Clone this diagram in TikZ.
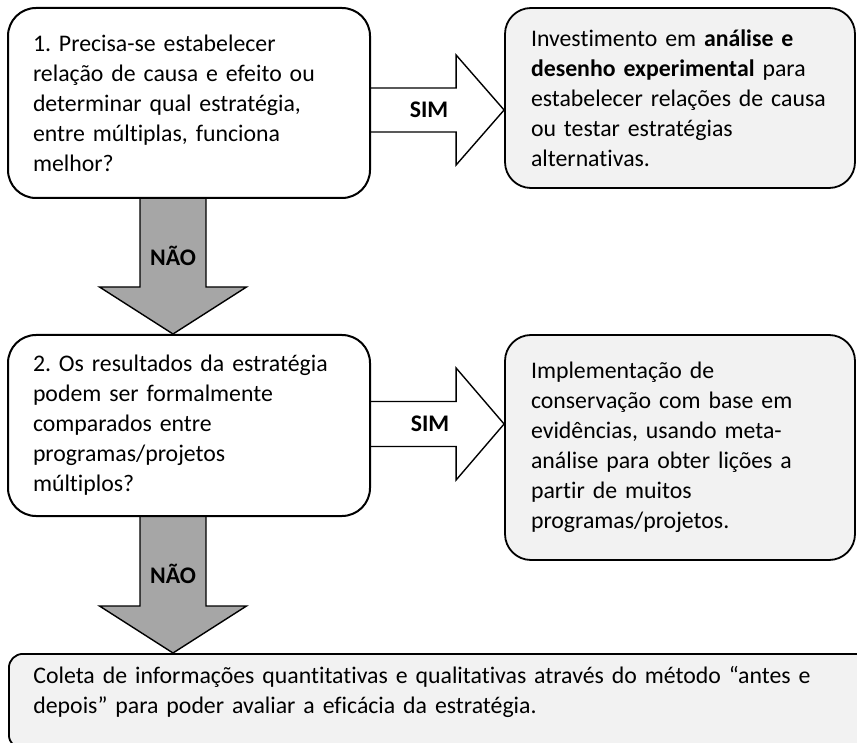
\documentclass[tikz,border=0pt]{standalone}
\usepackage{fontspec}
\setmainfont[Ligatures=NoCommon]{Carlito}
\usetikzlibrary{calc,backgrounds}
\definecolor{ansfill}{HTML}{F2F2F2}
\definecolor{nogrey}{HTML}{A6A6A6}
\frenchspacing
\tikzset{
  font=\fontsize{11.9}{15}\selectfont,
  question/.style={draw=black,line width=1pt,rounded corners=14pt,fill=white,
                   inner ysep=0pt,align=left},
  answer/.style={draw=black,line width=0.9pt,rounded corners=13pt,fill=ansfill,
                 inner ysep=0pt,align=left},
  yesarrow/.style={draw=black,line width=0.7pt,fill=white},
  noarrow/.style={draw=black,line width=0.7pt,fill=nogrey},
  armlbl/.style={font=\fontsize{11.9}{15}\selectfont\bfseries,inner sep=1pt},
}

\begin{document}
\begin{tikzpicture}[x=0.5pt,y=-0.5pt]
  \useasboundingbox (0,0) rectangle (857,743);
  \clip (0,0) rectangle (857,743);

  % questions (left) and answers (right)
  \node[question,inner xsep=12.5pt,text width=156pt,minimum height=95pt] (q1) at (189,103)
    {1. Precisa-se estabelecer\\relação de causa e efeito ou\\determinar qual estratégia,\\entre múltiplas, funciona\\melhor?};
  \node[answer,inner xsep=13pt,text width=149pt,minimum height=90pt] (a1) at (680,98)
    {Investimento em \textbf{análise e}\\\textbf{desenho experimental} para\\estabelecer relações de causa\\ou testar estratégias\\alternativas.};
  \node[question,inner xsep=12.5pt,text width=156pt,minimum height=90.5pt] (q2) at (189,425.5)
    {2. Os resultados da estratégia\\podem ser formalmente\\comparados entre\\programas/projetos\\múltiplos?};
  \node[answer,inner xsep=13pt,text width=149pt,minimum height=112.5pt] (a2) at (680,447.5)
    {Implementação de\\conservação com base em\\evidências, usando meta-\\análise para obter lições a\\partir de muitos\\programas/projetos.};

  % last box runs past the page edge
  \node[answer,anchor=north west,rounded corners=7pt,
        minimum width=436pt,minimum height=47.5pt] (method) at (8,653) {};
  \node[anchor=base west,inner sep=0pt,text width=411pt,align=left] (methodtxt)
    at ($(method.north west)+(25,30)$)
    {Coleta de informações quantitativas e qualitativas através do método “antes e\\depois” para poder avaliar a eficácia da estratégia.};

  \begin{scope}[on background layer]
    % SIM arrows
    \coordinate (y1a) at (q1.east |- 0,110);
    \coordinate (y1b) at (a1.west |- 0,110);
    \draw[yesarrow] ($(y1a)+(0,-22)$) -- ($(y1b)+(-48,-22)$) -- ($(y1b)+(-48,-55)$)
      -- (y1b) -- ($(y1b)+(-48,55)$) -- ($(y1b)+(-48,22)$) -- ($(y1a)+(0,22)$);
    \coordinate (y2a) at (q2.east |- 0,424);
    \coordinate (y2b) at (a2.west |- 0,424);
    \draw[yesarrow] ($(y2a)+(0,-22.5)$) -- ($(y2b)+(-48,-22.5)$) -- ($(y2b)+(-48,-56)$)
      -- (y2b) -- ($(y2b)+(-48,56)$) -- ($(y2b)+(-48,22.5)$) -- ($(y2a)+(0,22.5)$);

    % NAO arrows
    \coordinate (n1a) at (173,0 |- q1.south);
    \coordinate (n1b) at (173,0 |- q2.north);
    \draw[noarrow] ($(n1a)+(-33,0)$) -- ($(n1b)+(-33,-47)$) -- ($(n1b)+(-73.5,-47)$)
      -- (n1b) -- ($(n1b)+(73.5,-47)$) -- ($(n1b)+(33,-47)$) -- ($(n1a)+(33,0)$);
    \coordinate (n2a) at (173,0 |- q2.south);
    \coordinate (n2b) at (173,0 |- method.north);
    \draw[noarrow] ($(n2a)+(-33,0)$) -- ($(n2b)+(-33,-47)$) -- ($(n2b)+(-73.5,-47)$)
      -- (n2b) -- ($(n2b)+(73.5,-47)$) -- ($(n2b)+(33,-47)$) -- ($(n2a)+(33,0)$);
  \end{scope}

  \node[armlbl] (yes1) at ($(y1a)+(58,0)$) {SIM};
  \node[armlbl] (yes2) at ($(y2a)+(59,0)$) {SIM};
  \node[armlbl] (no1) at ($(n1a)+(0,57)$) {NÃO};
  \node[armlbl] (no2) at ($(n2a)+(0,57)$) {NÃO};
\end{tikzpicture}
\end{document}
